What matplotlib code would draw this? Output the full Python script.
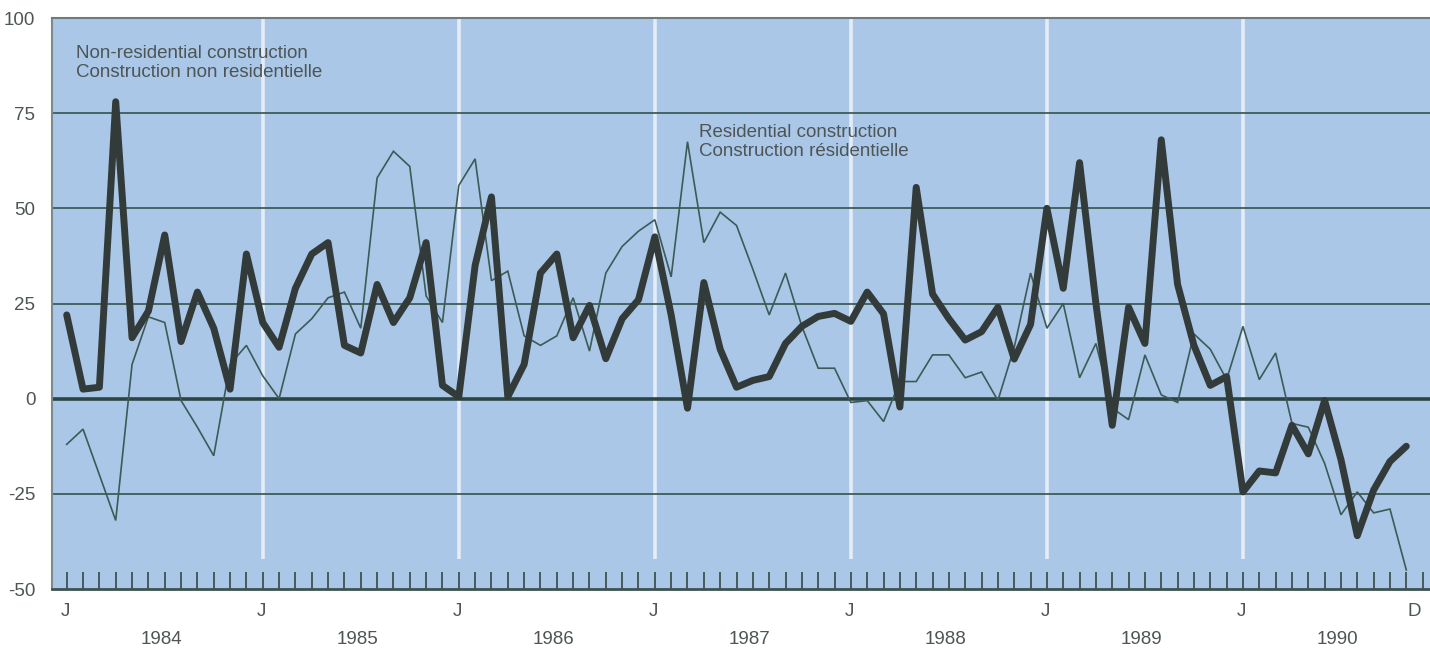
import matplotlib
matplotlib.use('Agg')
import matplotlib.pyplot as plt
import numpy as np

plt.rcParams['font.family'] = ['Liberation Sans', 'DejaVu Sans']

# ---- data (monthly, Jan 1984 - Nov 1990) ----
years = [1984, 1985, 1986, 1987, 1988, 1989, 1990]

non_residential = [
    22, 2.5, 3, 78, 16, 23, 43, 15, 28, 18.5, 2.5, 38,          # 1984
    20, 13.5, 29, 38, 41, 14, 12, 30, 20, 26.5, 41, 3.5,        # 1985
    0.5, 35, 53, 0.5, 9, 33, 38, 16, 24.5, 10.5, 21, 26,        # 1986
    42.5, 22, -2.5, 30.5, 13, 3, 4.8, 5.8, 14.5, 19, 21.6, 22.4,  # 1987
    20.3, 28, 22.3, -2.2, 55.5, 27.5, 21, 15.4, 17.6, 24, 10.4, 19.5,  # 1988
    50, 29, 62, 25, -7, 24, 14.5, 68, 30, 14, 3.5, 5.8,         # 1989
    -24.5, -19, -19.5, -7, -14.5, -0.5, -16, -36, -24, -16.5, -12.5,  # 1990
]

residential = [
    -12, -8, -20, -32, 9, 21.5, 20, -0.5, -7.5, -15, 9, 14,     # 1984
    6, 0, 17, 21, 26.5, 28, 18.5, 58, 65, 61, 27, 20,           # 1985
    56, 63, 31, 33.5, 16.5, 14, 16.5, 26.5, 12.5, 33, 40, 44,   # 1986
    47, 32, 67.5, 41, 49, 45.5, 34, 22, 33, 19, 8, 8,           # 1987
    -1, -0.5, -6, 4.5, 4.5, 11.5, 11.5, 5.5, 7, -0.5, 13.5, 33,  # 1988
    18.5, 25, 5.5, 14.5, -2.5, -5.5, 11.5, 1, -1, 17, 13, 5,    # 1989
    19, 5, 12, -6.5, -7.5, -17, -30.5, -24.5, -30, -29, -45,    # 1990
]

y_ticks = [100, 75, 50, 25, 0, -25, -50]
y_tick_labels = ['100', '75', '50', '25', '0', '-25', '-50']
grid_levels = [75, 50, 25, -25]

label_nonres = ['Non-residential construction', 'Construction non residentielle']
label_res = ['Residential construction', 'Construction résidentielle']

# ---- figure ----
W, H = 1430, 649
fig = plt.figure(figsize=(W / 100, H / 100), dpi=100)
ax_left, ax_top, ax_bottom = 52, 18, 589
ax = fig.add_axes([ax_left / W, 1 - ax_bottom / H, 1 - ax_left / W, (ax_bottom - ax_top) / H])

ax.set_facecolor('#aac7e7')
ax.set_xlim(-0.9, 83.45)
ax.set_ylim(-50, 100)

text_color = '#4d5555'
fs = 13.5

# white January lines
ax.vlines(np.arange(12, 84, 12), -42, 100, color='#e4edf7', lw=2.6, zorder=0.8)

# horizontal grid
for v in grid_levels:
    ax.axhline(v, color='#3f5c5a', lw=1.3, zorder=1)
ax.axhline(0, color='#2c4442', lw=2.6, zorder=1)

x = np.arange(len(non_residential))
ax.plot(x, residential, color='#3d5a57', lw=1.2, zorder=2,
        solid_joinstyle='miter')
ax.plot(x, non_residential, color='#323b39', lw=5.0, zorder=3,
        solid_joinstyle='round', solid_capstyle='round')

# spines
ax.spines['right'].set_visible(False)
ax.spines['top'].set_color('#6f7b7b')
ax.spines['top'].set_linewidth(1.5)
ax.spines['left'].set_color('#7d8a8a')
ax.spines['left'].set_linewidth(1.5)
ax.spines['bottom'].set_color('#3f5252')
ax.spines['bottom'].set_linewidth(2)

# ticks
ax.set_xticks(np.arange(0, 84))
ax.tick_params(axis='x', direction='in', length=12, width=1.3, color='#3f5252',
               labelbottom=False)
ax.set_yticks(y_ticks)
ax.set_yticklabels(y_tick_labels)
ax.tick_params(axis='y', length=0, pad=12, labelsize=fs, labelcolor=text_color)

# x labels
xt = ax.get_xaxis_transform()
for k in range(len(years)):
    ax.text(12 * k - 0.1, -0.040, 'J', transform=xt, ha='center', va='center',
            fontsize=fs, color=text_color)
ax.text(82.5, -0.040, 'D', transform=xt, ha='center', va='center',
        fontsize=fs, color=text_color)
for k, yr in enumerate(years):
    ax.text(12 * k + 5.8, -0.088, str(yr), transform=xt, ha='center', va='center',
            fontsize=fs, color=text_color)

# series labels
ax.text(0.57, 90.8, label_nonres[0], ha='left', va='center', fontsize=fs, color=text_color)
ax.text(0.57, 85.8, label_nonres[1], ha='left', va='center', fontsize=fs, color=text_color)
ax.text(38.7, 69.8, label_res[0], ha='left', va='center', fontsize=fs, color=text_color)
ax.text(38.7, 64.8, label_res[1], ha='left', va='center', fontsize=fs, color=text_color)

fig.savefig('out.png', dpi=100)
